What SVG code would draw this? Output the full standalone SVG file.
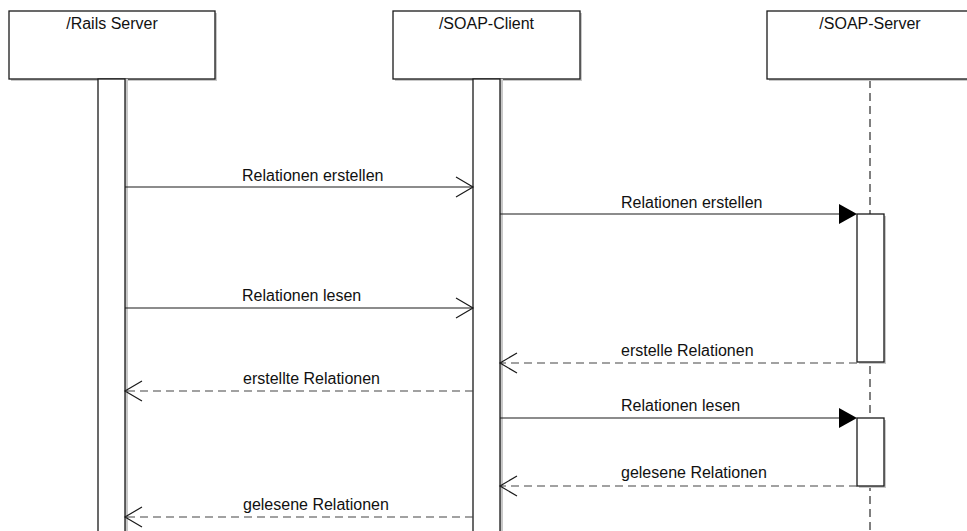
<svg xmlns="http://www.w3.org/2000/svg" width="967" height="531" viewBox="0 0 967 531">
<style>
  .box { fill: #ffffff; stroke: #1a1a1a; stroke-width: 1.3; }
  .shadow { fill: #c8c8c8; }
  .act { fill: #ffffff; stroke: #1a1a1a; stroke-width: 1.3; }
  .title { font-family: "Liberation Sans", Arial, sans-serif; font-size: 16px; fill: #111; text-anchor: middle; }
  .lbl { font-family: "Liberation Sans", Arial, sans-serif; font-size: 16px; fill: #111; }
  .msg { stroke: #1a1a1a; stroke-width: 1.2; fill: none; }
  .ret { stroke: #444; stroke-width: 1.2; fill: none; stroke-dasharray: 8 5; }
  .life { stroke: #555; stroke-width: 1.5; fill: none; stroke-dasharray: 8 5; }
  .open { stroke: #1a1a1a; stroke-width: 1.2; fill: none; }
  .filled { fill: #000; stroke: none; }
</style>
<rect width="967" height="531" fill="#ffffff"/>

<g id="lifeline-soap-server-line">
  <line class="life" x1="870" y1="80" x2="870" y2="531"/>
</g>

<g id="rails-server">
  <rect class="shadow" x="11" y="13" width="206" height="68"/>
  <rect class="box" x="9" y="11" width="206" height="68"/>
  <text class="title" x="112" y="29">/Rails Server</text>
  <rect class="shadow" x="125" y="79" width="3" height="452"/>
  <rect class="act" x="98" y="79" width="27" height="460"/>
</g>

<g id="soap-client">
  <rect class="shadow" x="395" y="13" width="187" height="68"/>
  <rect class="box" x="393" y="11" width="187" height="68"/>
  <text class="title" x="486.5" y="29">/SOAP-Client</text>
  <rect class="shadow" x="500" y="79" width="3" height="452"/>
  <rect class="act" x="473" y="79" width="27" height="460"/>
</g>

<g id="soap-server">
  <rect class="shadow" x="769" y="13" width="206" height="68"/>
  <rect class="box" x="767" y="11" width="206" height="68"/>
  <text class="title" x="870" y="29">/SOAP-Server</text>
  <rect class="shadow" x="859" y="216" width="27" height="148"/>
  <rect class="act" x="857" y="214" width="27" height="148"/>
  <rect class="shadow" x="859" y="420" width="27" height="68"/>
  <rect class="act" x="857" y="418" width="27" height="68"/>
</g>

<g id="connectors">
  <!-- 1 -->
  <line class="msg" x1="125" y1="187" x2="473" y2="187"/>
  <polyline class="open" points="456,177 473,187 456,197"/>
  <text class="lbl" x="242" y="181">Relationen erstellen</text>
  <!-- 2 -->
  <line class="msg" x1="500" y1="214" x2="840" y2="214"/>
  <polygon class="filled" points="839,204 857,214 839,224"/>
  <text class="lbl" x="621" y="208">Relationen erstellen</text>
  <!-- 3 -->
  <line class="msg" x1="125" y1="308" x2="473" y2="308"/>
  <polyline class="open" points="456,298 473,308 456,318"/>
  <text class="lbl" x="242" y="301">Relationen lesen</text>
  <!-- 4 -->
  <line class="ret" x1="857" y1="363" x2="500" y2="363"/>
  <polyline class="open" points="517,353 500,363 517,373"/>
  <text class="lbl" x="621" y="356">erstelle Relationen</text>
  <!-- 5 -->
  <line class="ret" x1="473" y1="391" x2="125" y2="391"/>
  <polyline class="open" points="142,381 125,391 142,401"/>
  <text class="lbl" x="243" y="384">erstellte Relationen</text>
  <!-- 6 -->
  <line class="msg" x1="500" y1="418" x2="840" y2="418"/>
  <polygon class="filled" points="839,408 857,418 839,428"/>
  <text class="lbl" x="621" y="411">Relationen lesen</text>
  <!-- 7 -->
  <line class="ret" x1="857" y1="486" x2="500" y2="486"/>
  <polyline class="open" points="517,476 500,486 517,496"/>
  <text class="lbl" x="621" y="478">gelesene Relationen</text>
  <!-- 8 -->
  <line class="ret" x1="473" y1="517" x2="125" y2="517"/>
  <polyline class="open" points="142,507 125,517 142,527"/>
  <text class="lbl" x="243" y="510">gelesene Relationen</text>
</g>
</svg>
